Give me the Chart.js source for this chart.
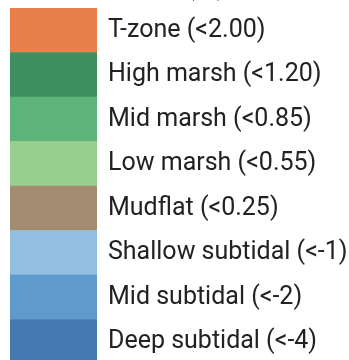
<!DOCTYPE html>
<html>
<head>
<meta charset="utf-8">
<script src="https://cdn.jsdelivr.net/npm/chart.js@4/dist/chart.umd.min.js"></script>
<style>
  html, body { margin: 0; padding: 0; background: #ffffff; overflow: hidden; }
  #frame { width: 349px; height: 360px; overflow: hidden; position: relative; }
  #box { position: absolute; left: 0; top: -40px; width: 349px; height: 430px; }
</style>
</head>
<body>
<div id="frame"><div id="box"><canvas id="c"></canvas></div></div>
<script>
// Elevation zones, top (highest) to bottom (deepest)
const zones = [
  'T-zone (<2.00)',
  'High marsh (<1.20)',
  'Mid marsh (<0.85)',
  'Low marsh (<0.55)',
  'Mudflat (<0.25)',
  'Shallow subtidal (<-1)',
  'Mid subtidal (<-2)',
  'Deep subtidal (<-4)'
];
// every swatch spans the full key width
const swatchSpan = [1, 1, 1, 1, 1, 1, 1, 1];
const zoneColors = [
  '#E8804D', '#3F8F60', '#5DB47A', '#98CE90',
  '#A48C70', '#92BEE0', '#5E9BCC', '#4479AF'
];

const FONT = "Roboto, 'Noto Sans', sans-serif";

new Chart(document.getElementById('c'), {
  type: 'bar',
  data: {
    labels: zones,
    datasets: [{
      data: swatchSpan,
      backgroundColor: zoneColors,
      borderWidth: 0,
      categoryPercentage: 1.0,
      barPercentage: 1.0
    }]
  },
  options: {
    indexAxis: 'y',
    responsive: true,
    maintainAspectRatio: false,
    animation: false,
    layout: { padding: { top: 14, left: 10, right: 0, bottom: 0 } },
    plugins: {
      legend: { display: false },
      tooltip: { enabled: false },
      title: {
        display: true,
        text: 'Elevation range (m)',
        align: 'start',
        color: '#222222',
        font: { family: FONT, size: 25, weight: 'normal' },
        padding: { top: 0, bottom: 4 }
      }
    },
    scales: {
      x: { display: false, min: 0, max: 1 },
      y: {
        position: 'right',
        grid: { display: false, drawTicks: false },
        border: { display: false },
        ticks: {
          color: '#222222',
          padding: 11,
          font: { family: FONT, size: 25 }
        },
        afterFit: (s) => { s.width = 252; }
      }
    }
  }
});
</script>
</body>
</html>
